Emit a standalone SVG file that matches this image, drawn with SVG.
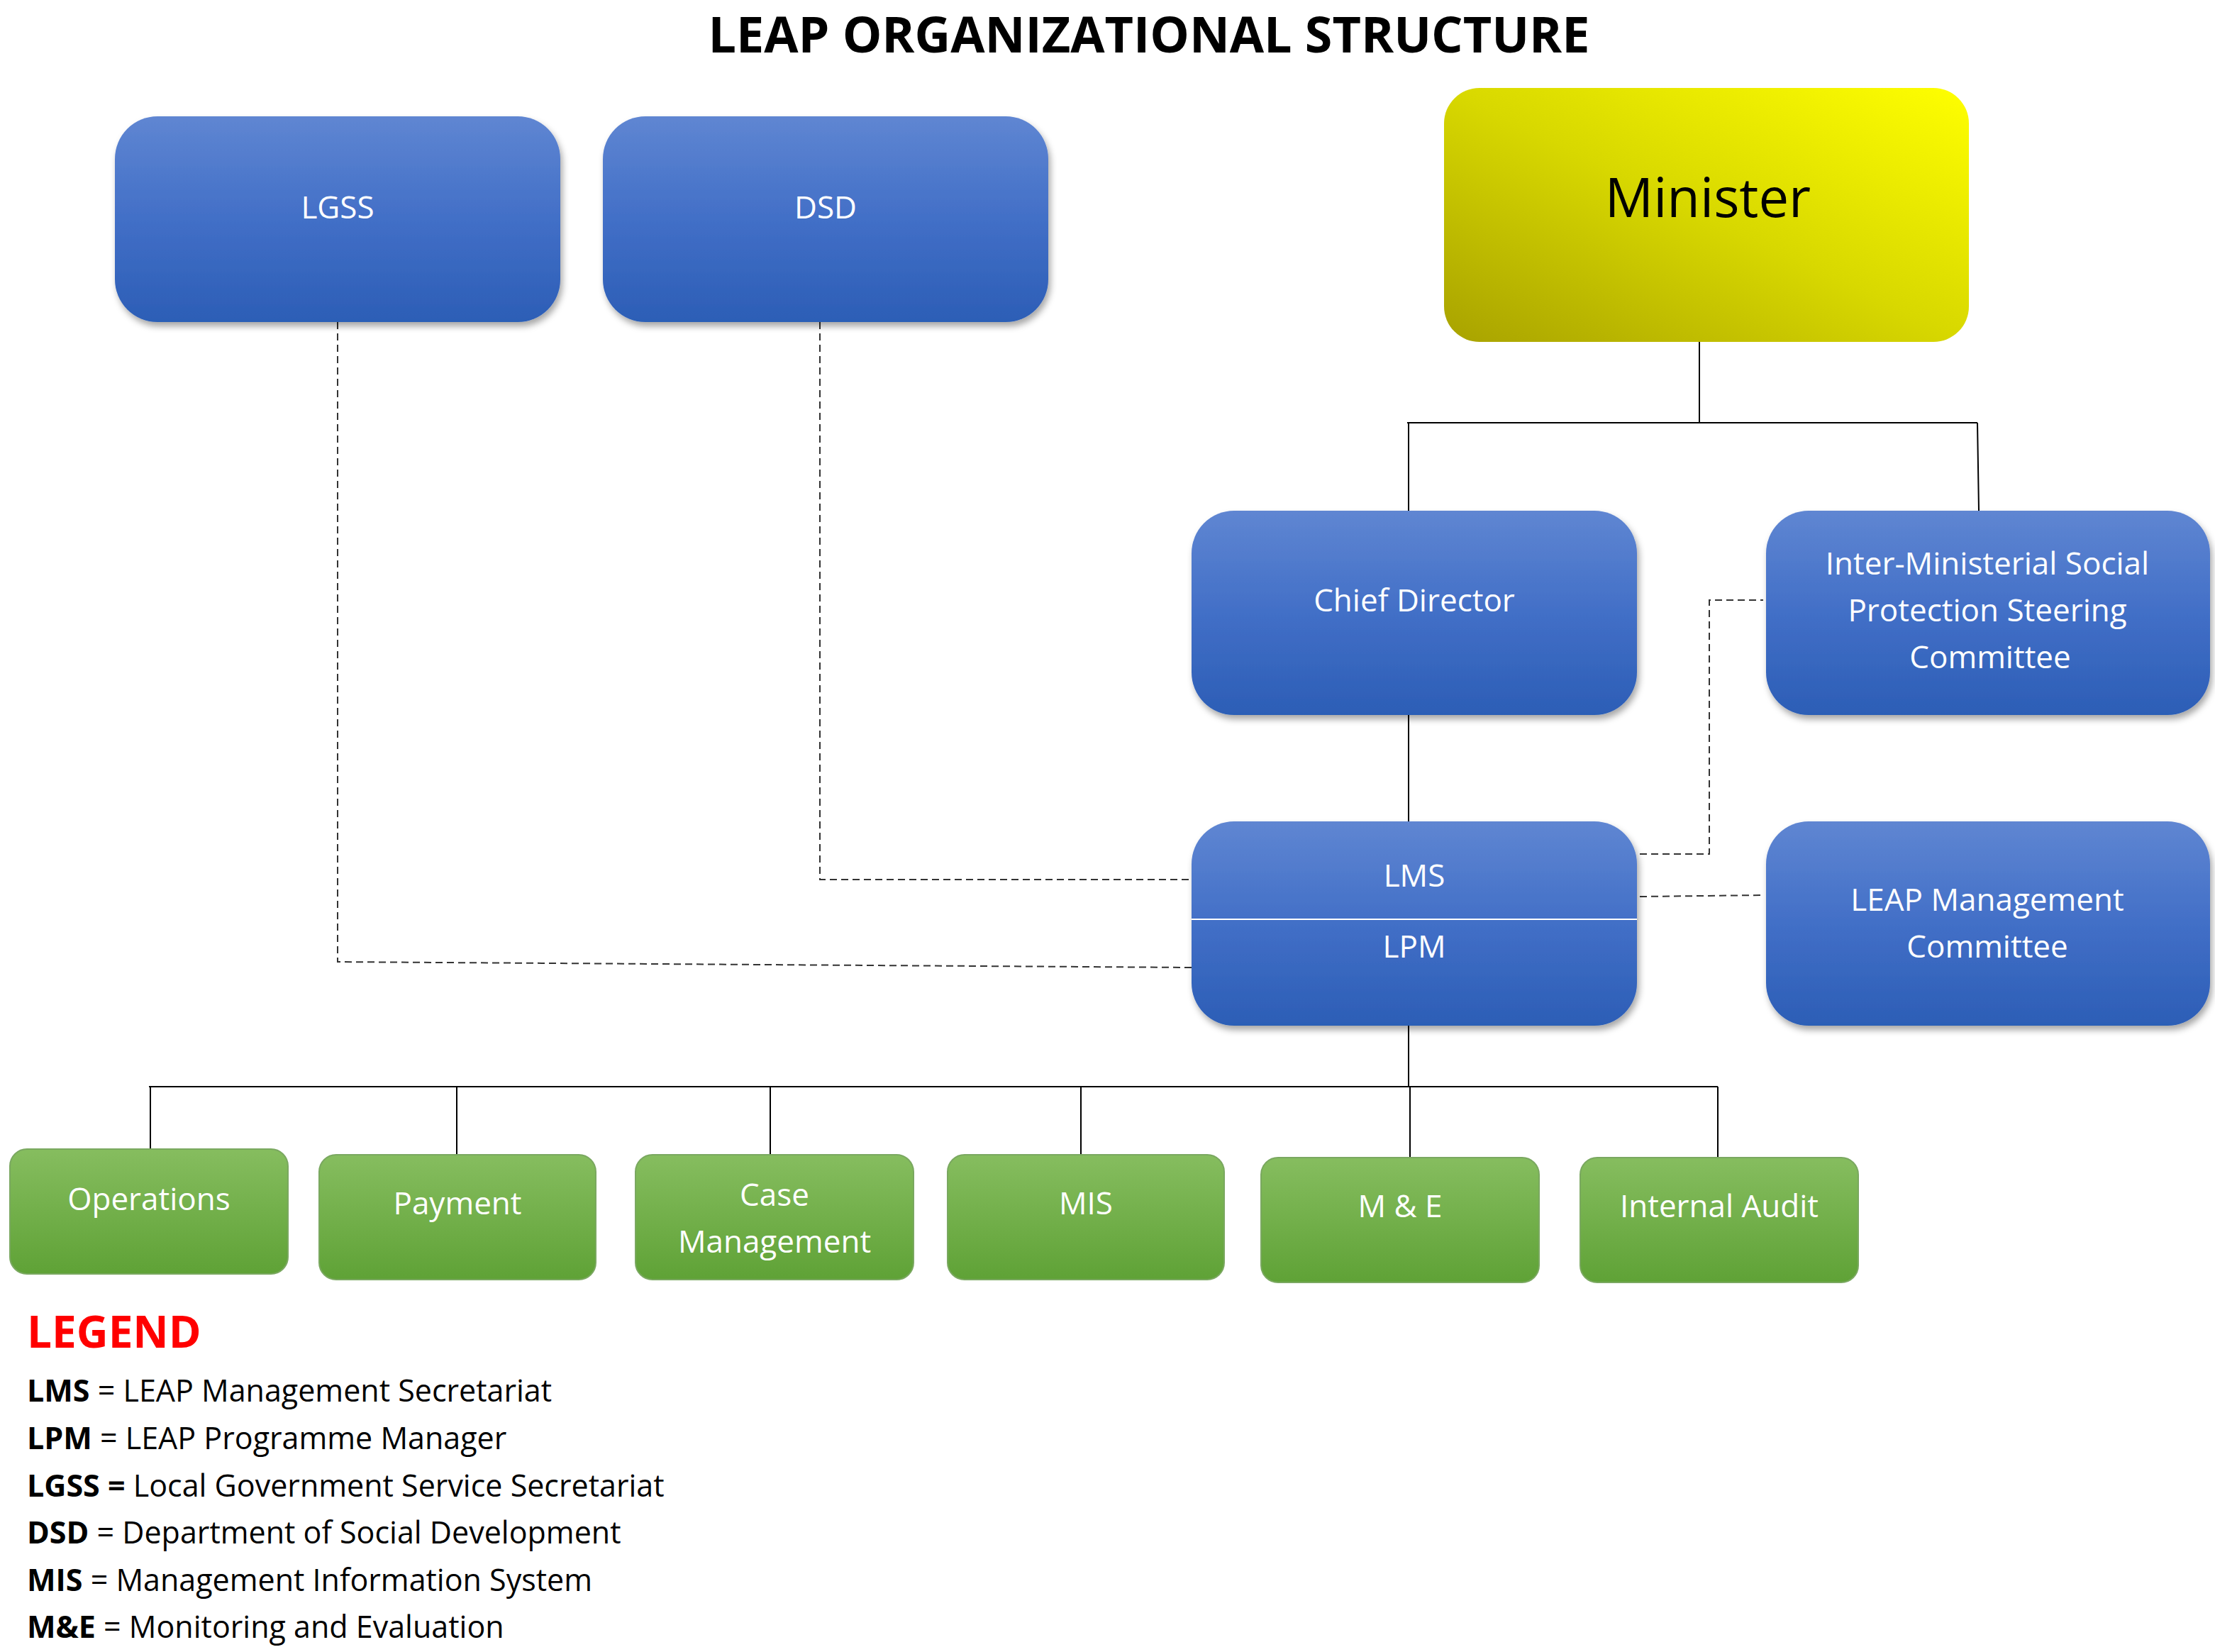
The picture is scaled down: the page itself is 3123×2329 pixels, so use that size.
<svg xmlns="http://www.w3.org/2000/svg" width="3123" height="2329" viewBox="0 0 3123 2329">
<defs>
<linearGradient id="blue" x1="0" y1="0" x2="0" y2="1"><stop offset="0" stop-color="#5f86d2"/><stop offset="0.5" stop-color="#426fc7"/><stop offset="1" stop-color="#2c5eb6"/></linearGradient>
<linearGradient id="green" x1="0" y1="0" x2="0" y2="1"><stop offset="0" stop-color="#86bd5f"/><stop offset="1" stop-color="#5fa236"/></linearGradient>
<linearGradient id="yel" x1="1" y1="0" x2="0" y2="1"><stop offset="0" stop-color="#ffff00"/><stop offset="0.5" stop-color="#d8d800"/><stop offset="1" stop-color="#a8a200"/></linearGradient>
<filter id="sh" x="-10%" y="-10%" width="120%" height="130%"><feDropShadow dx="3" dy="6" stdDeviation="5" flood-color="#000" flood-opacity="0.35"/></filter>
</defs>
<style>
.b{fill:url(#blue);filter:url(#sh)}
.g{fill:url(#green);stroke:#7aa860;stroke-width:2}
.t{font-family:"Open Sans","Liberation Sans",sans-serif;fill:#fff;font-size:44px;text-anchor:middle}
.l{stroke:#000;stroke-width:2;fill:none}
.d{stroke:#333;stroke-width:2;fill:none;stroke-dasharray:10,6}
.lg{font-family:"Open Sans","Liberation Sans",sans-serif;font-size:43px;fill:#000}
</style>
<rect width="3123" height="2329" fill="#fff"/>
<text x="1620" y="74" text-anchor="middle" font-family="Open Sans, Liberation Sans, sans-serif" font-weight="bold" font-size="70">LEAP ORGANIZATIONAL STRUCTURE</text>
<g id="connectors">
<path class="l" d="M2396 482V596M1984 596H2788M1986 596V720M2788 596L2790 720M1986 1008V1158M1986 1446V1532M210 1532H2422M212 1532V1620M644 1532V1628M1086 1532V1628M1524 1532V1628M1988 1532V1632M2422 1532V1632"/>
<path class="d" d="M476 454V1356L1680 1364M1156 454V1240H1680M2312 1204H2410V846H2486M2312 1264L2486 1262"/>
</g>
<g id="lgss"><rect class="b" x="162" y="164" width="628" height="290" rx="60"/><text class="t" x="476" y="308">LGSS</text></g>
<g id="dsd"><rect class="b" x="850" y="164" width="628" height="290" rx="60"/><text class="t" x="1164" y="308">DSD</text></g>
<g id="minister"><rect x="2036" y="124" width="740" height="358" rx="50" fill="url(#yel)"/><text x="2408" y="306" text-anchor="middle" font-family="Open Sans, Liberation Sans, sans-serif" font-size="76">Minister</text></g>
<g id="chief"><rect class="b" x="1680" y="720" width="628" height="288" rx="60"/><text class="t" x="1994" y="862">Chief Director</text></g>
<g id="imspsc"><rect class="b" x="2490" y="720" width="626" height="288" rx="60"/><text class="t" x="2802" y="810">Inter-Ministerial Social</text><text class="t" x="2802" y="876">Protection Steering</text><text class="t" x="2806" y="942">Committee</text></g>
<g id="lms"><rect class="b" x="1680" y="1158" width="628" height="288" rx="60"/><line x1="1680" y1="1296" x2="2308" y2="1296" stroke="#fff" stroke-width="2"/><text class="t" x="1994" y="1250">LMS</text><text class="t" x="1994" y="1350">LPM</text></g>
<g id="lmc"><rect class="b" x="2490" y="1158" width="626" height="288" rx="60"/><text class="t" x="2802" y="1284">LEAP Management</text><text class="t" x="2802" y="1350">Committee</text></g>
<g id="ops"><rect class="g" x="14" y="1620" width="392" height="176" rx="24"/><text class="t" x="210" y="1706">Operations</text></g>
<g id="pay"><rect class="g" x="450" y="1628" width="390" height="176" rx="24"/><text class="t" x="645" y="1712">Payment</text></g>
<g id="case"><rect class="g" x="896" y="1628" width="392" height="176" rx="24"/><text class="t" x="1092" y="1700">Case</text><text class="t" x="1092" y="1766">Management</text></g>
<g id="mis"><rect class="g" x="1336" y="1628" width="390" height="176" rx="24"/><text class="t" x="1531" y="1712">MIS</text></g>
<g id="me"><rect class="g" x="1778" y="1632" width="392" height="176" rx="24"/><text class="t" x="1974" y="1716">M &amp; E</text></g>
<g id="audit"><rect class="g" x="2228" y="1632" width="392" height="176" rx="24"/><text class="t" x="2424" y="1716">Internal Audit</text></g>
<g id="legend">
<text x="38" y="1900" font-family="Open Sans, Liberation Sans, sans-serif" font-weight="bold" font-size="62" fill="#ff0000">LEGEND</text>
<text class="lg" x="38" y="1976"><tspan font-weight="bold">LMS</tspan>  = LEAP Management Secretariat</text>
<text class="lg" x="38" y="2043"><tspan font-weight="bold">LPM</tspan>  = LEAP Programme Manager</text>
<text class="lg" x="38" y="2110"><tspan font-weight="bold">LGSS =</tspan> Local Government Service Secretariat</text>
<text class="lg" x="38" y="2176"><tspan font-weight="bold">DSD</tspan>  = Department of Social Development</text>
<text class="lg" x="38" y="2243"><tspan font-weight="bold">MIS</tspan>   = Management Information System</text>
<text class="lg" x="38" y="2309"><tspan font-weight="bold">M&amp;E</tspan> = Monitoring and Evaluation</text>
</g>
</svg>
